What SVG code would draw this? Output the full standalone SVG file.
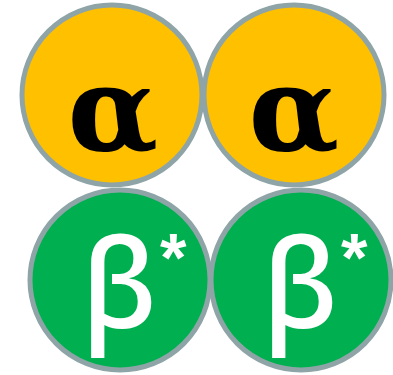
<svg xmlns="http://www.w3.org/2000/svg" width="393" height="375" viewBox="0 0 393 375">
<style>
.c{stroke:#8fa4a7;stroke-width:5}
.y{fill:#ffc000}
.g{fill:#00b050}
.a{font-family:"DejaVu Serif",serif;font-weight:bold;font-size:118px;fill:#000;text-anchor:middle}
.b{font-family:"Noto Sans","Liberation Sans",sans-serif;font-weight:500;font-size:124px;fill:#fff}
.s{font-family:"Liberation Sans",sans-serif;font-weight:bold;font-size:68px;fill:#fff}
</style>
<g id="alpha1"><circle class="c y" cx="112" cy="95" r="90"/><text class="a" x="113" y="150">α</text></g>
<g id="alpha2"><circle class="c y" cx="294" cy="95" r="90"/><text class="a" x="294" y="150">α</text></g>
<g id="beta1"><circle class="c g" cx="120" cy="280" r="90"/><text class="b" x="81" y="328">β</text><text class="s" x="160" y="281">*</text></g>
<g id="beta2"><circle class="c g" cx="301" cy="280" r="90"/><text class="b" x="262" y="328">β</text><text class="s" x="341" y="281">*</text></g>
</svg>
